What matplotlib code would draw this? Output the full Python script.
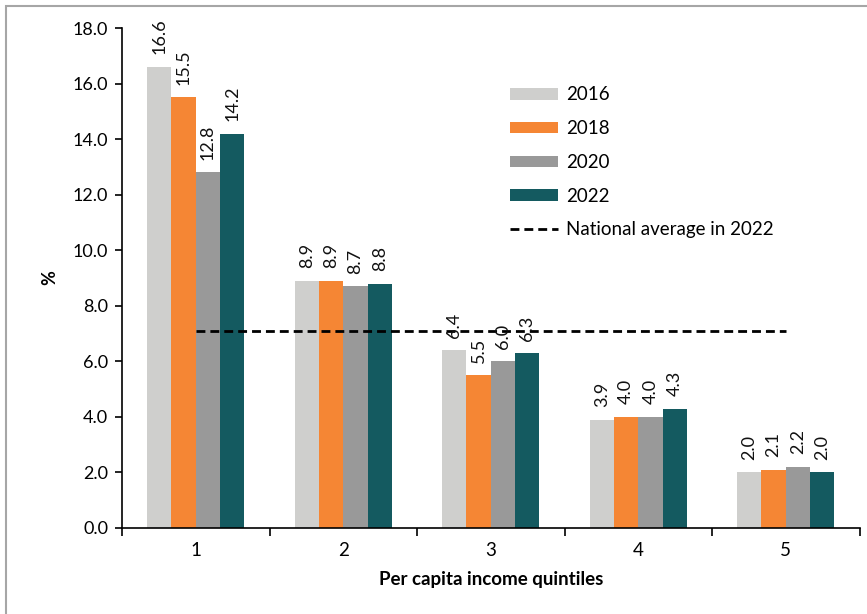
import matplotlib
matplotlib.use("Agg")
import matplotlib.pyplot as plt
from matplotlib.patches import Rectangle, Patch
from matplotlib.lines import Line2D
import numpy as np

plt.rcParams['font.family'] = ['Lato', 'DejaVu Sans']

quintiles = ["1", "2", "3", "4", "5"]
years = ["2016", "2018", "2020", "2022"]
v2016 = [16.6, 8.9, 6.4, 3.9, 2.0]
v2018 = [15.5, 8.9, 5.5, 4.0, 2.1]
v2020 = [12.8, 8.7, 6.0, 4.0, 2.2]
v2022 = [14.2, 8.8, 6.3, 4.3, 2.0]
national_avg_2022 = 7.1
avg_label = "National average in 2022"

series = [v2016, v2018, v2020, v2022]
colors = ["#CFCFCD", "#F58634", "#999999", "#145A60"]

fig = plt.figure(figsize=(8.67, 6.14), dpi=100)
ax = fig.add_axes([122 / 867, 1 - 528 / 614, (859.5 - 122) / 867, (528 - 28) / 614])

# outer frame
fig.patches.append(Rectangle((6 / 867, -0.05), 1.1, 1 - 6 / 614 + 0.05,
                             transform=fig.transFigure, fill=False,
                             edgecolor="#A6A6A6", linewidth=1.5, zorder=0))

x = np.arange(len(quintiles))
bw = 0.165
offsets = (np.arange(len(years)) - 1.5) * bw
for vals, col, off, yr in zip(series, colors, offsets, years):
    bars = ax.bar(x + off, vals, width=bw, color=col, label=yr, zorder=2)
    for b, v in zip(bars, vals):
        ax.annotate(f"{v:.1f}", (b.get_x() + b.get_width() / 2, v),
                    xytext=(0, 9), textcoords="offset points",
                    rotation=90, ha="center", va="bottom", fontsize=13,
                    color="#111111", annotation_clip=False, zorder=4)

ax.plot([x[0], x[-1]], [national_avg_2022, national_avg_2022], color="black",
        linestyle=(0, (3.2, 1.8)), linewidth=2, zorder=3)

ax.set_xlim(-0.5, len(quintiles) - 0.5)
ax.set_ylim(0, 18)
ax.set_yticks(np.arange(0, 18.1, 2))
ax.set_yticklabels([f"{t:.1f}" for t in np.arange(0, 18.1, 2)], fontsize=13)
ax.set_xticks(x)
ax.set_xticklabels(quintiles, fontsize=13.5)
ax.tick_params(axis="x", length=0, pad=10)
ax.set_xticks(np.arange(-0.5, len(quintiles), 1), minor=True)
ax.tick_params(axis="x", which="minor", length=6, width=1.2, direction="out")
ax.tick_params(axis="y", length=5, width=1.2, direction="out", pad=5)

for s in ["top", "right"]:
    ax.spines[s].set_visible(False)
for s in ["left", "bottom"]:
    ax.spines[s].set_linewidth(1.2)

ax.set_ylabel("%", fontsize=13, fontweight="bold", labelpad=10)
ax.set_xlabel("Per capita income quintiles", fontsize=13.5, fontweight="bold", labelpad=9)

handles = [Patch(facecolor=c, label=y) for c, y in zip(colors, years)]
handles.append(Line2D([], [], color="black", linestyle=(0, (3.2, 1.8)), linewidth=2,
                      label=avg_label))
ax.legend(handles=handles, loc="upper left", bbox_to_anchor=(0.516, 0.898),
          frameon=False, fontsize=13.5, handlelength=2.56, handleheight=0.55,
          handletextpad=0.43, labelspacing=0.89, borderaxespad=0)

fig.savefig("out.png", dpi=100)
